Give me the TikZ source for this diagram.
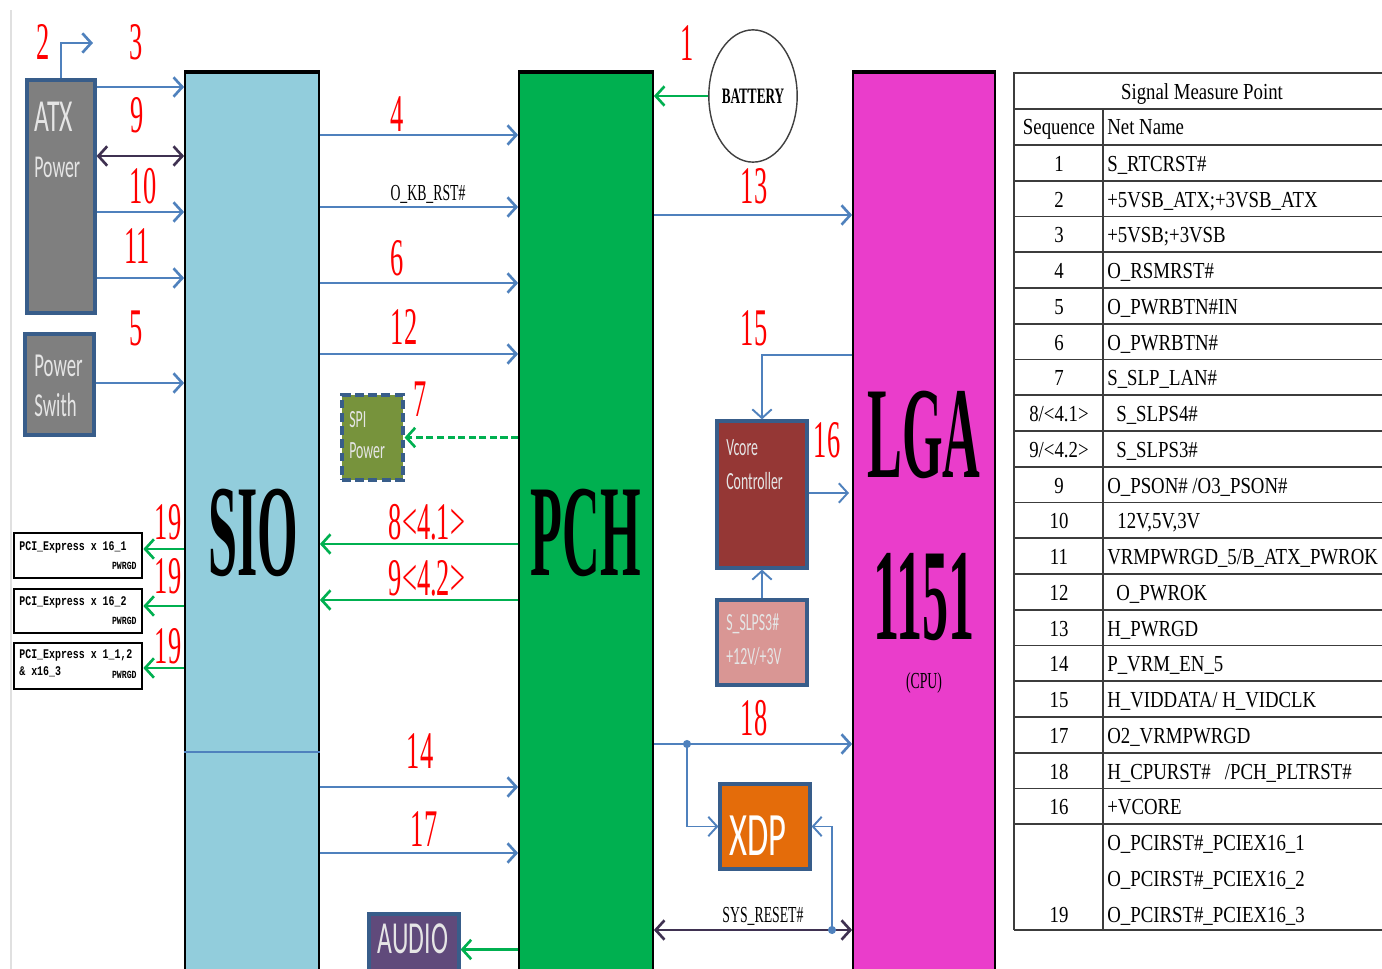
\documentclass[tikz,border=0pt]{standalone}
\usepackage{fontspec}
\setmainfont{Liberation Serif}
\newfontfamily\seqfont[FakeStretch=0.5]{Liberation Serif}
\newfontfamily\bigfont[FakeStretch=0.4]{Liberation Serif}
\newfontfamily\tabfont[FakeStretch=0.82]{Liberation Serif}
\newfontfamily\labfont[FakeStretch=0.6]{Liberation Serif}
\newfontfamily\boxfont[FakeStretch=0.56]{Carlito}
\newfontfamily\pcifont[FakeStretch=0.75]{Liberation Mono}
\usepackage{tikz}
\usetikzlibrary{arrows.meta,fit,shapes.geometric}
\definecolor{sioblue}{HTML}{92CDDC}
\definecolor{pchgreen}{HTML}{00B050}
\definecolor{lgapink}{HTML}{EA3DCB}
\definecolor{edgeblue}{HTML}{385D8A}
\definecolor{wireblue}{HTML}{4F81BD}
\definecolor{wiregreen}{HTML}{00B050}
\definecolor{wiredark}{HTML}{3F3151}
\definecolor{atxgray}{HTML}{7F7F7F}
\definecolor{spiolive}{HTML}{77933C}
\definecolor{vcorered}{HTML}{953735}
\definecolor{slprose}{HTML}{D99694}
\definecolor{xdporange}{HTML}{E46C0A}
\definecolor{audiopurple}{HTML}{604A7B}
\definecolor{tabgray}{HTML}{3C3C3C}
\tikzset{
  chip/.style = {draw=black, line width=1pt, inner sep=0pt},% SIO, PCH, CPU
  blk/.style = {draw=edgeblue, line width=1.8pt, inner sep=0pt},% small blocks
  pci/.style = {draw=black, line width=1.5pt, inner sep=0pt, fill=white},
  seq/.style = {text=red, inner sep=0pt,
    font=\seqfont\fontsize{30}{30}\selectfont},% red step numbers
  big/.style = {inner sep=0pt, font=\bigfont\bfseries\fontsize{74}{74}\selectfont},
  btxt/.style = {inner sep=0pt, anchor=west, text=white!90!black},
  net/.style = {inner sep=0pt, font=\labfont\fontsize{13}{13}\selectfont},
  pci_t/.style = {inner sep=0pt, anchor=west,
    font=\pcifont\bfseries\fontsize{7.5}{8}\selectfont},
  pci_s/.style = {inner sep=0pt, anchor=east,
    font=\pcifont\bfseries\fontsize{6.2}{7}\selectfont},
  w_b/.style = {draw=wireblue, line width=1.5pt,
    -{Straight Barb[length=5pt,width=11pt]}},
  w_g/.style = {draw=wiregreen, line width=1.5pt,
    -{Straight Barb[length=5pt,width=11pt]}},
  w_d/.style = {draw=wiredark, line width=1.5pt,
    {Straight Barb[length=5pt,width=11pt]}-{Straight Barb[length=5pt,width=11pt]}},
  tab_l/.style = {draw=tabgray, line width=1pt},
  tab_t/.style = {inner sep=0pt, font=\tabfont\fontsize{13}{13}\selectfont}
}

\begin{document}
\begin{tikzpicture}[x=0.567pt, y=-0.567pt]
  \useasboundingbox (0,0) rectangle (1382,969);
  \draw[black!12, line width=1pt] (11,10) -- (11,969);

  % chips
  \node[chip, fill=sioblue, fit={(185,73) (319,985)}] (sio) {};
  \node[chip, fill=pchgreen, fit={(519,73) (653,985)}] (pch) {};
  \node[chip, fill=lgapink, fit={(853,73) (995,985)}] (lga) {};
  \draw[line width=2pt] (sio.north west) -- (sio.north east);
  \draw[line width=2pt] (pch.north west) -- (pch.north east);
  \draw[line width=2pt] (lga.north west) -- (lga.north east);
  \node[big] (sio_t) at (253,533) {SIO};
  \node[big] (pch_t) at (586,533) {PCH};
  \node[big] (lga_t) at (924,435) {LGA};
  \node[big] (lga_n) at (924,597) {1151};
  \node[net] (lga_c) at (924,683) {(CPU)};

  % power blocks
  \node[blk, fill=atxgray, fit={(27,80) (95,313)}] (atx) {};
  \node[btxt, font=\boxfont\fontsize{26}{26}\selectfont] (atx_a) at (34,117) {ATX};
  \node[btxt, font=\boxfont\fontsize{18}{18}\selectfont] (atx_p) at (34,167) {Power};
  \node[blk, fill=atxgray, fit={(25,334) (94,435)}] (psw) {};
  \node[btxt, font=\boxfont\fontsize{19}{19}\selectfont] (psw_a) at (34,366) {Power};
  \node[btxt, font=\boxfont\fontsize{19}{19}\selectfont] (psw_b) at (34,405) {Swith};
  \node[blk, fill=spiolive, dash pattern=on 5pt off 2.5pt,
    fit={(342,395) (403,480)}] (spi) {};
  \node[btxt, font=\boxfont\fontsize{14}{14}\selectfont] (spi_a) at (349,420) {SPI};
  \node[btxt, font=\boxfont\fontsize{14}{14}\selectfont] (spi_b) at (349,451) {Power};
  \node[blk, fill=audiopurple, fit={(369,914) (459,985)}] (audio) {};
  \node[btxt, anchor=center, font=\boxfont\fontsize{26}{26}\selectfont] (audio_t) at (413,939) {AUDIO};

  % slots
  \node[pci, fit={(14,533) (142,578)}] (pci1) {};
  \node[pci_t] (pci1_a) at (19,547) {PCI\_Express x 16\_1};
  \node[pci_s] (pci1_b) at (137,566) {PWRGD};
  \node[pci, fit={(14,589) (142,633)}] (pci2) {};
  \node[pci_t] (pci2_a) at (19,602) {PCI\_Express x 16\_2};
  \node[pci_s] (pci2_b) at (137,621) {PWRGD};
  \node[pci, fit={(14,643) (142,689)}] (pci3) {};
  \node[pci_t] (pci3_a) at (19,655) {PCI\_Express x 1\_1,2};
  \node[pci_t] (pci3_b) at (19,672) {\& x16\_3};
  \node[pci_s] (pci3_c) at (137,675) {PWRGD};

  % cpu side
  \node[ellipse, draw=black!75, line width=0.8pt, minimum width=45pt,
    minimum height=75pt, inner sep=0pt,
    font=\labfont\bfseries\fontsize{12.5}{12}\selectfont] (bat) at (753,96) {BATTERY};
  \node[blk, fill=vcorered, fit={(717,421) (807,568)}] (vcore) {};
  \node[btxt, font=\boxfont\fontsize{14}{14}\selectfont] (vcore_a) at (726,448) {Vcore};
  \node[btxt, font=\boxfont\fontsize{14}{14}\selectfont] (vcore_b) at (726,481) {Controller};
  \node[blk, fill=slprose, fit={(717,600) (807,685)}] (slp) {};
  \node[btxt, font=\boxfont\fontsize{14}{14}\selectfont] (slp_a) at (726,624) {S\_SLPS3\#};
  \node[btxt, font=\boxfont\fontsize{14}{14}\selectfont] (slp_b) at (726,656) {+12V/+3V};
  \node[blk, fill=xdporange, fit={(720,784) (810,869)}] (xdp) {};
  \node[btxt, anchor=center, text=white, font=\boxfont\fontsize{35}{35}\selectfont] (xdp_t) at (758,836) {XDP};

  % step numbers
  \node[seq] (n1) at (687,43) {1};
  \node[seq] (n2) at (43,42) {2};
  \node[seq] (n3) at (136,42) {3};
  \node[seq] (n4) at (397,114) {4};
  \node[seq] (n5) at (136,328) {5};
  \node[seq] (n6) at (397,258) {6};
  \node[seq] (n7) at (420,399) {7};
  \node[seq] (n8) at (427,522) {8<4.1>};
  \node[seq] (n9a) at (137,115) {9};
  \node[seq] (n9b) at (427,578) {9<4.2>};
  \node[seq] (n10) at (143,186) {10};
  \node[seq] (n11) at (137,246) {11};
  \node[seq] (n12) at (404,327) {12};
  \node[seq] (n13) at (754,186) {13};
  \node[seq] (n14) at (420,751) {14};
  \node[seq] (n15) at (754,328) {15};
  \node[seq] (n16) at (827,440) {16};
  \node[seq] (n17) at (424,829) {17};
  \node[seq] (n18) at (754,718) {18};
  \node[seq] (n19a) at (168,522) {19};
  \node[seq] (n19b) at (168,576) {19};
  \node[seq] (n19c) at (168,646) {19};
  \node[net] (kbrst) at (428,194) {O\_KB\_RST\#};
  \node[net] (sysrst) at (763,916) {SYS\_RESET\#};

  % wires
  \coordinate (p2) at (93,43);
  \draw[w_b] (atx.north) |- (p2);
  \draw[w_b] (atx.east |- 0,87) -- (sio.west |- 0,87);
  \draw[w_d] (atx.east |- 0,156) -- (sio.west |- 0,156);
  \draw[w_b] (atx.east |- 0,212) -- (sio.west |- 0,212);
  \draw[w_b] (atx.east |- 0,278) -- (sio.west |- 0,278);
  \draw[w_b] (psw.east |- 0,383) -- (sio.west |- 0,383);
  \draw[wireblue, line width=1pt] (sio.west |- 0,752) -- (sio.east |- 0,752);
  \draw[w_b] (sio.east |- 0,135) -- (pch.west |- 0,135);
  \draw[w_b] (sio.east |- 0,207) -- (pch.west |- 0,207);
  \draw[w_b] (sio.east |- 0,283) -- (pch.west |- 0,283);
  \draw[w_b] (sio.east |- 0,354) -- (pch.west |- 0,354);
  \draw[w_b] (sio.east |- 0,787) -- (pch.west |- 0,787);
  \draw[w_b] (sio.east |- 0,853) -- (pch.west |- 0,853);
  \draw[w_g] (pch.west |- 0,544) -- (sio.east |- 0,544);
  \draw[w_g] (pch.west |- 0,600) -- (sio.east |- 0,600);
  \draw[w_g, dash pattern=on 4pt off 2pt] (pch.west |- spi.east) -- (spi.east);
  \draw[w_g] (pch.west |- audio.east) -- (audio.east);
  \draw[w_g] (sio.west |- 0,549) -- (pci1.east |- 0,549);
  \draw[w_g] (sio.west |- 0,606) -- (pci2.east |- 0,606);
  \draw[w_g] (sio.west |- 0,668) -- (pci3.east |- 0,668);
  \draw[w_g] (bat.west) -- (pch.east |- bat.west);
  \draw[w_b] (pch.east |- 0,215) -- (lga.west |- 0,215);
  \draw[w_b, line width=1.1pt] (lga.west |- 0,355) -| (vcore.north);
  \coordinate (p16) at (849,493);
  \draw[w_b, line width=1.1pt] (vcore.east |- p16) -- (p16);
  \draw[w_b, line width=1.1pt] (slp.north) -- (vcore.south);
  \draw[w_b] (pch.east |- 0,744) -- (lga.west |- 0,744);
  \coordinate (j18) at (687,744);
  \draw[w_b, line width=1.1pt] (j18) |- (xdp.west);
  \fill[wireblue] (j18) circle (2.3pt);
  \draw[w_d] (pch.east |- 0,930) -- (lga.west |- 0,930);
  \coordinate (jrst) at (832,930);
  \draw[w_b, line width=1.1pt] (jrst) |- (xdp.east);
  \fill[wireblue] (jrst) circle (2.3pt);

  % table
  \draw[tab_l] (1014,72) -- (1014,930);
  \draw[tab_l] (1103,109) -- (1103,930);
  \draw[tab_l] (1014,73) -- (1382,73);
  \draw[tab_l] (1014,109) -- (1382,109);
  \foreach \k in {0,...,19}
    \draw[tab_l] (1014,{145+35.75*\k}) -- (1382,{145+35.75*\k});
  \draw[tab_l] (1014,930) -- (1382,930);
  \node[tab_t, anchor=base] (tab_h) at (1202,100) {Signal Measure Point};
  \node[tab_t, anchor=base] (tab_s) at (1059,135) {Sequence};
  \node[tab_t, anchor=base west] (tab_n) at (1107,135) {Net Name};
  \foreach \k/\s/\x/\n in {
      0/{1}/1107/{S\_RTCRST\#},
      1/{2}/1107/{+5VSB\_ATX;+3VSB\_ATX},
      2/{3}/1107/{+5VSB;+3VSB},
      3/{4}/1107/{O\_RSMRST\#},
      4/{5}/1107/{O\_PWRBTN\#IN},
      5/{6}/1107/{O\_PWRBTN\#},
      6/{7}/1107/{S\_SLP\_LAN\#},
      7/{8/<4.1>}/1116/{S\_SLPS4\#},
      8/{9/<4.2>}/1116/{S\_SLPS3\#},
      9/{9}/1107/{O\_PSON\# /O3\_PSON\#},
      10/{10}/1117/{12V,5V,3V},
      11/{11}/1107/{VRMPWRGD\_5/B\_ATX\_PWROK},
      12/{12}/1116/{O\_PWROK},
      13/{13}/1107/{H\_PWRGD},
      14/{14}/1107/{P\_VRM\_EN\_5},
      15/{15}/1107/{H\_VIDDATA/ H\_VIDCLK},
      16/{17}/1107/{O2\_VRMPWRGD},
      17/{18}/1107/{H\_CPURST\#\hspace{8pt}/PCH\_PLTRST\#},
      18/{16}/1107/{+VCORE},
      19/{}/1107/{O\_PCIRST\#\_PCIEX16\_1},
      20/{}/1107/{O\_PCIRST\#\_PCIEX16\_2},
      21/{19}/1107/{O\_PCIRST\#\_PCIEX16\_3}} {
    \node[tab_t, anchor=base] (s\k) at (1059,{145+35.75*(\k+0.5)+8.5}) {\s};
    \node[tab_t, anchor=base west] (m\k) at (\x,{145+35.75*(\k+0.5)+8.5}) {\n};
  }
\end{tikzpicture}
\end{document}
